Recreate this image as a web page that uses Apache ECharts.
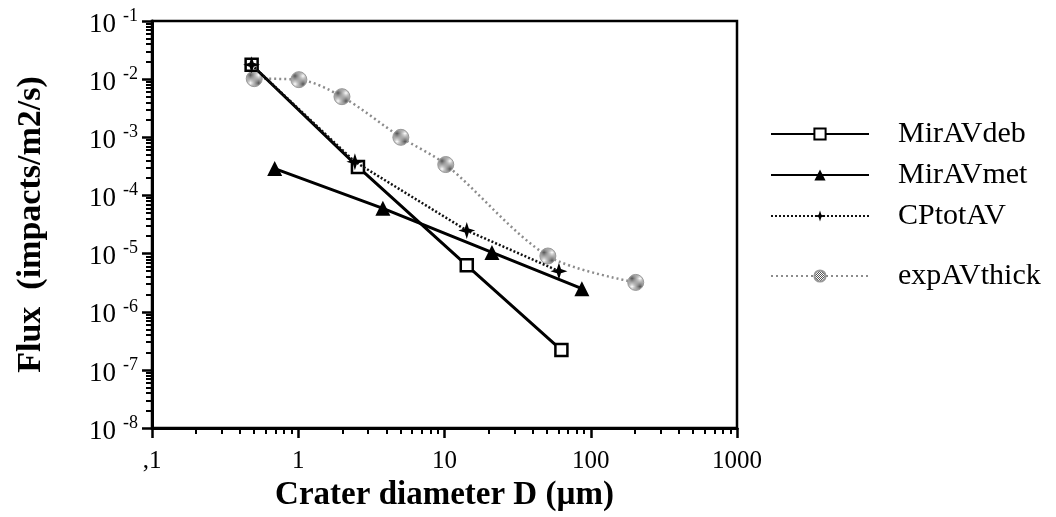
<!DOCTYPE html>
<html>
<head>
<meta charset="utf-8">
<script src="https://cdn.jsdelivr.net/npm/echarts@6/dist/echarts.min.js"></script>
<style>
  html, body { margin: 0; padding: 0; background: #fff; }
  #chart { width: 1056px; height: 517px; }
</style>
</head>
<body>
<div id="chart"></div>
<script>
// tick labels
const xTickLabels = [',1', '1', '10', '100', '1000'];
const yTickExps = ['-8', '-7', '-6', '-5', '-4', '-3', '-2', '-1'];

// crater diameter D (um) and flux (impacts/m2/s)
const mirAVdebD = [0.48, 2.56, 14.2, 63];
const mirAVdebFlux = [0.0177, 3.1e-4, 6.3e-6, 2.2e-7];

const mirAVmetD = [0.69, 3.79, 21.1, 87];
const mirAVmetFlux = [2.9e-4, 6.0e-5, 1.05e-5, 2.5e-6];

const cpTotAVD = [0.48, 2.44, 14.2, 60.6];
const cpTotAVFlux = [0.0177, 3.8e-4, 2.5e-5, 5.0e-6];

const expAVthickD = [0.50, 1.01, 1.99, 5.03, 10.2, 50.9, 203];
const expAVthickFlux = [0.0102, 0.0098, 5.0e-3, 1.0e-3, 3.4e-4, 9.1e-6, 3.2e-6];

const FONT = 'Liberation Serif';

function pairs(xs, ys) {
  return xs.map((x, i) => [x, ys[i]]);
}

// minor tick positions (log10 space) for the overlay axes
function minorTicks(from, to) {
  const out = [];
  for (let d = from; d < to; d++) {
    for (let m = 2; m <= 9; m++) out.push(d + Math.log10(m));
  }
  return out;
}

// little checker pattern for the hatched grey circles
function hatch() {
  const c = document.createElement('canvas');
  c.width = 2; c.height = 2;
  const g = c.getContext('2d');
  g.fillStyle = '#fff';
  g.fillRect(0, 0, 2, 2);
  g.fillStyle = '#555';
  g.fillRect(0, 0, 1, 1);
  g.fillRect(1, 1, 1, 1);
  return { image: c, repeat: 'repeat' };
}

const star4 = 'path://M0,-10 L2.4,-2.4 L10,0 L2.4,2.4 L0,10 L-2.4,2.4 L-10,0 L-2.4,-2.4 Z';

const chart = echarts.init(document.getElementById('chart'), null, { renderer: 'canvas' });

const legendText = { fontFamily: FONT, fontSize: 30, lineHeight: 28, color: '#000', padding: [0, 0, 0, 24] };

const opt = {
  backgroundColor: '#fff',
  animation: false,
  grid: {
    left: 152,
    right: 319,
    top: 21,
    bottom: 86,
    show: true,
    borderColor: '#000',
    borderWidth: 2.5,
    backgroundColor: 'transparent'
  },
  legend: [
    {
      data: ['MirAVdeb', 'MirAVmet', 'CPtotAV'],
      orient: 'vertical',
      left: 770,
      top: 119,
      padding: 0,
      itemWidth: 98,
      itemHeight: 14,
      itemGap: 11,
      textStyle: legendText
    },
    {
      data: ['expAVthick'],
      orient: 'vertical',
      left: 770,
      top: 261,
      padding: 0,
      itemWidth: 98,
      itemHeight: 14,
      textStyle: legendText
    }
  ],
  xAxis: [
    {
      type: 'log',
      logBase: 10,
      min: 0.1,
      max: 1000,
      name: 'Crater diameter D (\u00b5m)',
      nameLocation: 'middle',
      nameGap: 42,
      nameTextStyle: { fontFamily: FONT, fontWeight: 'bold', fontSize: 33, color: '#000' },
      axisLine: { onZero: false, lineStyle: { color: '#000', width: 3 } },
      axisTick: { length: 10, lineStyle: { color: '#000', width: 2.5 } },
      axisLabel: {
        margin: 21,
        fontFamily: FONT,
        fontSize: 25,
        color: '#000',
        formatter: (v) => xTickLabels[Math.round(Math.log10(v)) + 1]
      },
      splitLine: { show: false },
      minorTick: { show: false }
    },
    {
      type: 'value',
      min: -1,
      max: 3,
      position: 'bottom',
      axisLine: { show: false, onZero: false },
      axisLabel: { show: false },
      splitLine: { show: false },
      axisTick: { customValues: minorTicks(-1, 3), length: 6, lineStyle: { color: '#000', width: 2 } }
    }
  ],
  yAxis: [
    {
      type: 'log',
      logBase: 10,
      min: 1e-8,
      max: 1e-1,
      name: 'Flux  (impacts/m2/s)',
      nameLocation: 'middle',
      nameGap: 104,
      nameTextStyle: { fontFamily: FONT, fontWeight: 'bold', fontSize: 34, color: '#000' },
      axisLine: { onZero: false, lineStyle: { color: '#000', width: 3 } },
      axisTick: { length: 10, lineStyle: { color: '#000', width: 2.5 } },
      axisLabel: {
        margin: 14,
        padding: [3, 0, 0, 0],
        color: '#000',
        formatter: (v) => '{b|10}{s|' + yTickExps[Math.round(Math.log10(v)) + 8] + '}',
        rich: {
          b: { fontFamily: FONT, fontSize: 27, lineHeight: 31, verticalAlign: 'bottom', color: '#000' },
          s: { fontFamily: FONT, fontSize: 18, lineHeight: 18, verticalAlign: 'top', padding: [0, 0, 0, 7], color: '#000' }
        }
      },
      splitLine: { show: false },
      minorTick: { show: false }
    },
    {
      type: 'value',
      min: -8,
      max: -1,
      position: 'left',
      axisLine: { show: false, onZero: false },
      axisLabel: { show: false },
      splitLine: { show: false },
      axisTick: { customValues: minorTicks(-8, -1), length: 6, lineStyle: { color: '#000', width: 2 } }
    }
  ],
  series: [
    {
      name: 'MirAVdeb',
      type: 'line',
      data: pairs(mirAVdebD, mirAVdebFlux),
      symbol: 'rect',
      symbolSize: 12,
      lineStyle: { color: '#000', width: 3 },
      itemStyle: { color: '#fff', borderColor: '#000', borderWidth: 2.5 },
      z: 3
    },
    {
      name: 'MirAVmet',
      type: 'line',
      data: pairs(mirAVmetD, mirAVmetFlux),
      symbol: 'triangle',
      symbolSize: 15,
      lineStyle: { color: '#000', width: 3 },
      itemStyle: { color: '#000' },
      z: 3
    },
    {
      name: 'CPtotAV',
      type: 'line',
      data: pairs(cpTotAVD, cpTotAVFlux),
      symbol: star4,
      symbolSize: 17,
      lineStyle: { color: '#111', width: 2.5, type: [2, 2] },
      itemStyle: { color: '#000' },
      z: 4
    },
    {
      name: 'expAVthick',
      type: 'line',
      data: pairs(expAVthickD, expAVthickFlux),
      symbol: 'circle',
      symbolSize: 16,
      smooth: 0.3,
      lineStyle: { color: '#8c8c8c', width: 2.5, type: [2, 3] },
      itemStyle: { color: hatch(), borderColor: '#999', borderWidth: 1 },
      z: 2
    }
  ]
};

chart.setOption(opt);
</script>
</body>
</html>
